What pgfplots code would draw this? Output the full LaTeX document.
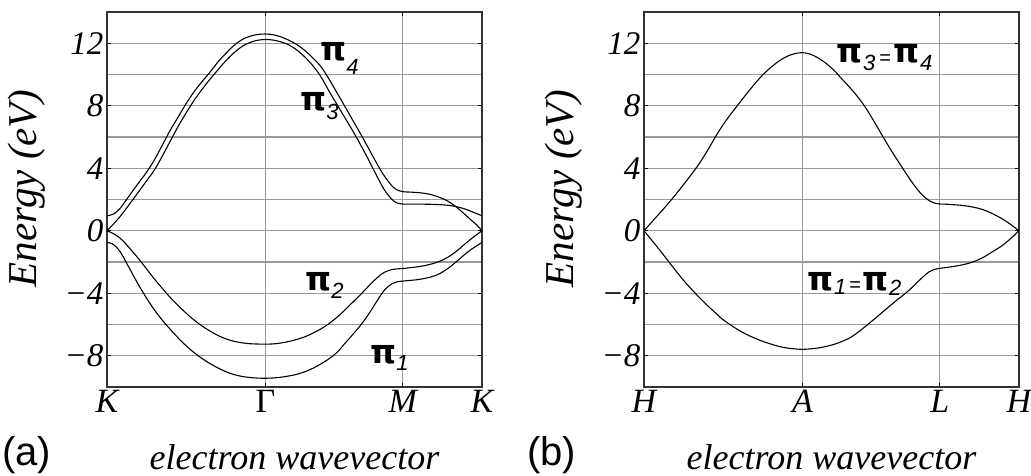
\documentclass[border=0pt]{standalone}
\usepackage{fontspec}
\setmainfont{Liberation Serif}
\newfontfamily\sansf{Liberation Sans}
\newfontfamily\pif{DejaVu Sans}
\usepackage{pgfplots}
\pgfplotsset{compat=1.18}

% pi label: glyph + lowered italic subscript
\newcommand{\PI}[2]{{\pif\bfseries\fontsize{33}{33}\selectfont π}\raisebox{#2}{\sansf\itshape\fontsize{22}{22}\selectfont #1}}

\pgfplotsset{
 bandline/.style={black, mark=none, line width=1.1pt, smooth, tension=0.55},
 band/.style={
  scale only axis, width=375pt, height=375pt,
  xmin=0, xmax=2.366, ymin=-10, ymax=14,
  xtick={0,1,1.866,2.366},
  ytick={-8,-4,0,4,8,12},
  yticklabels={−8,−4,0,4,8,12},
  minor ytick={-6,-2,2,6,10},
  xmajorgrids, ymajorgrids, yminorgrids,
  grid style={line width=1.2pt, black!40},
  minor grid style={line width=1.2pt, black!40},
  axis line style={line width=1.2pt, black!80},
  major tick length=4pt, minor tick length=0pt,
  tick style={black, line width=1pt},
  yticklabel style={font=\fontsize{33}{33}\selectfont\itshape},
  xticklabel style={font=\fontsize{34}{34}\selectfont\itshape},
  xlabel={electron wavevector}, ylabel={Energy (eV)},
  xlabel style={font=\fontsize{36}{36}\selectfont\itshape,
    at={(axis description cs:0.5,-0.221)}, anchor=base},
  ylabel style={font=\fontsize{41}{41}\selectfont\itshape,
    at={(axis description cs:-0.213,0.53)}, anchor=center},
}}

\begin{document}
\begin{tikzpicture}
\useasboundingbox (0,0) rectangle (1031pt,476pt);

% ---------- (a) K - Gamma - M - K ----------
\begin{axis}[band, at={(107pt,89pt)}, anchor=south west,
  xticklabels={K,{\upshape Γ},M,K}]
% pi_4
\addplot[bandline] coordinates {
(0,0.96) (0.04,1.06) (0.08,1.40) (0.12,1.95) (0.16,2.52) (0.20,3.07)
(0.25,3.75) (0.30,4.55) (0.35,5.50) (0.40,6.45) (0.45,7.30) (0.50,8.15)
(0.55,8.90) (0.60,9.55) (0.65,10.15) (0.70,10.80) (0.75,11.35) (0.80,11.85)
(0.85,12.22) (0.90,12.44) (0.95,12.56) (1.00,12.59)
(1.05,12.54) (1.10,12.40) (1.15,12.18) (1.20,11.90) (1.25,11.52) (1.30,11.05)
(1.35,10.50) (1.40,9.72) (1.45,8.85) (1.50,7.97) (1.55,7.08) (1.60,6.20)
(1.65,5.28) (1.70,4.35) (1.75,3.50) (1.80,2.85) (1.83,2.62) (1.866,2.50)
(1.90,2.48) (1.95,2.45) (2.00,2.40) (2.05,2.30) (2.10,2.13) (2.15,1.90)
(2.20,1.55) (2.25,1.12) (2.30,0.66) (2.33,0.40) (2.366,0)};
% pi_3
\addplot[bandline] coordinates {
(0,0) (0.04,0.42) (0.08,0.88) (0.12,1.40) (0.16,1.95) (0.20,2.50)
(0.25,3.20) (0.30,3.90) (0.35,4.80) (0.40,5.75) (0.45,6.70) (0.50,7.55)
(0.55,8.35) (0.60,9.05) (0.65,9.70) (0.70,10.30) (0.75,10.88) (0.80,11.38)
(0.85,11.78) (0.90,12.04) (0.95,12.19) (1.00,12.24)
(1.05,12.20) (1.10,12.08) (1.15,11.88) (1.20,11.55) (1.25,11.10) (1.30,10.55)
(1.35,9.85) (1.40,8.95) (1.45,8.10) (1.50,7.25) (1.55,6.40) (1.60,5.50)
(1.65,4.55) (1.70,3.55) (1.75,2.62) (1.80,1.98) (1.83,1.78) (1.866,1.71)
(1.90,1.70) (1.95,1.70) (2.00,1.70) (2.05,1.69) (2.10,1.67) (2.15,1.63)
(2.20,1.55) (2.25,1.42) (2.30,1.23) (2.366,0.96)};
% pi_2
\addplot[bandline] coordinates {
(0,0) (0.04,-0.18) (0.08,-0.45) (0.12,-0.85) (0.16,-1.32) (0.20,-1.80)
(0.25,-2.45) (0.30,-3.10) (0.35,-3.70) (0.40,-4.28) (0.45,-4.80) (0.50,-5.28)
(0.55,-5.72) (0.60,-6.10) (0.65,-6.42) (0.70,-6.70) (0.75,-6.92) (0.80,-7.07)
(0.85,-7.17) (0.90,-7.23) (0.95,-7.25) (1.00,-7.26)
(1.05,-7.24) (1.10,-7.18) (1.15,-7.08) (1.20,-6.95) (1.25,-6.78) (1.30,-6.55)
(1.35,-6.28) (1.40,-5.95) (1.45,-5.55) (1.50,-5.08) (1.55,-4.58) (1.60,-4.08)
(1.65,-3.55) (1.70,-3.05) (1.75,-2.66) (1.80,-2.48) (1.83,-2.44) (1.866,-2.42)
(1.90,-2.38) (1.95,-2.32) (2.00,-2.24) (2.05,-2.12) (2.10,-1.95) (2.15,-1.70)
(2.20,-1.35) (2.25,-0.92) (2.30,-0.50) (2.366,0)};
% pi_1
\addplot[bandline] coordinates {
(0,-0.75) (0.03,-0.82) (0.06,-1.05) (0.09,-1.45) (0.12,-2.00) (0.16,-2.75)
(0.20,-3.48) (0.25,-4.32) (0.30,-5.08) (0.35,-5.74) (0.40,-6.32) (0.45,-6.87)
(0.50,-7.37) (0.55,-7.80) (0.60,-8.18) (0.65,-8.50) (0.70,-8.78) (0.75,-9.02)
(0.80,-9.20) (0.85,-9.32) (0.90,-9.39) (0.95,-9.43) (1.00,-9.44)
(1.05,-9.42) (1.10,-9.37) (1.15,-9.29) (1.20,-9.18) (1.25,-9.02) (1.30,-8.80)
(1.35,-8.52) (1.40,-8.20) (1.45,-7.80) (1.50,-7.22) (1.55,-6.65) (1.60,-6.05)
(1.65,-5.35) (1.70,-4.55) (1.75,-3.80) (1.80,-3.38) (1.83,-3.27) (1.866,-3.22)
(1.90,-3.19) (1.95,-3.14) (2.00,-3.06) (2.05,-2.94) (2.10,-2.74) (2.15,-2.42)
(2.20,-2.02) (2.25,-1.58) (2.30,-1.18) (2.366,-0.75)};
\node[anchor=base west, inner sep=0] at (axis cs:1.345,10.89) {\PI{4}{-14pt}};
\node[anchor=base west, inner sep=0] at (axis cs:1.218,7.69) {\PI{3}{-9pt}};
\node[anchor=base west, inner sep=0] at (axis cs:1.25,-3.84) {\PI{2}{-8pt}};
\node[anchor=base west, inner sep=0] at (axis cs:1.66,-8.52) {\PI{1}{-7pt}};
\end{axis}

% ---------- (b) H - A - L - H ----------
\begin{axis}[band, at={(644pt,89pt)}, anchor=south west,
  xticklabels={H,A,L,H}]
% pi_3 = pi_4
\addplot[bandline] coordinates {
(0,0) (0.05,0.57) (0.10,1.14) (0.15,1.71) (0.20,2.32) (0.25,2.96)
(0.30,3.62) (0.35,4.32) (0.40,5.12) (0.45,6.00) (0.50,6.80) (0.55,7.50)
(0.60,8.15) (0.65,8.80) (0.70,9.42) (0.75,9.98) (0.80,10.45) (0.85,10.85)
(0.90,11.15) (0.95,11.33) (1.00,11.40)
(1.05,11.30) (1.10,11.05) (1.15,10.70) (1.20,10.25) (1.25,9.70) (1.30,9.15)
(1.35,8.55) (1.40,7.85) (1.45,7.02) (1.50,6.15) (1.55,5.30) (1.60,4.50)
(1.65,3.72) (1.70,2.98) (1.75,2.35) (1.80,1.92) (1.83,1.78) (1.866,1.71)
(1.90,1.70) (1.95,1.67) (2.00,1.63) (2.05,1.56) (2.10,1.46) (2.15,1.31)
(2.20,1.09) (2.25,0.82) (2.30,0.50) (2.366,0)};
% pi_1 = pi_2
\addplot[bandline] coordinates {
(0,0) (0.05,-0.62) (0.10,-1.25) (0.15,-1.90) (0.20,-2.55) (0.25,-3.18)
(0.30,-3.75) (0.35,-4.28) (0.40,-4.78) (0.45,-5.25) (0.50,-5.70) (0.55,-6.05)
(0.60,-6.38) (0.65,-6.65) (0.70,-6.88) (0.75,-7.08) (0.80,-7.25) (0.85,-7.40)
(0.90,-7.50) (0.95,-7.56) (1.00,-7.59)
(1.05,-7.56) (1.10,-7.50) (1.15,-7.40) (1.20,-7.27) (1.25,-7.08) (1.30,-6.85)
(1.35,-6.50) (1.40,-6.10) (1.45,-5.68) (1.50,-5.25) (1.55,-4.82) (1.60,-4.40)
(1.65,-4.00) (1.70,-3.55) (1.75,-3.05) (1.80,-2.62) (1.83,-2.48) (1.866,-2.41)
(1.90,-2.36) (1.95,-2.29) (2.00,-2.20) (2.05,-2.08) (2.10,-1.90) (2.15,-1.65)
(2.20,-1.33) (2.25,-1.02) (2.30,-0.62) (2.366,0)};
\node[anchor=base west, inner sep=0] at (axis cs:1.216,10.76)
  {\PI{3}{-8pt}\hspace{4pt}{\sansf\fontsize{20}{20}\selectfont\raisebox{-2pt}{=}}\hspace{3pt}\PI{4}{-8pt}};
\node[anchor=base west, inner sep=0] at (axis cs:1.033,-3.84)
  {\PI{1}{-4pt}\hspace{3pt}{\sansf\fontsize{20}{20}\selectfont\raisebox{-1pt}{=}}\hspace{2pt}\PI{2}{-5pt}};
\end{axis}

\node[anchor=base west, inner sep=0, font=\sansf\fontsize{40}{40}\selectfont] at (2pt,10pt) {(a)};
\node[anchor=base west, inner sep=0, font=\sansf\fontsize{40}{40}\selectfont] at (527pt,10pt) {(b)};
\end{tikzpicture}
\end{document}
